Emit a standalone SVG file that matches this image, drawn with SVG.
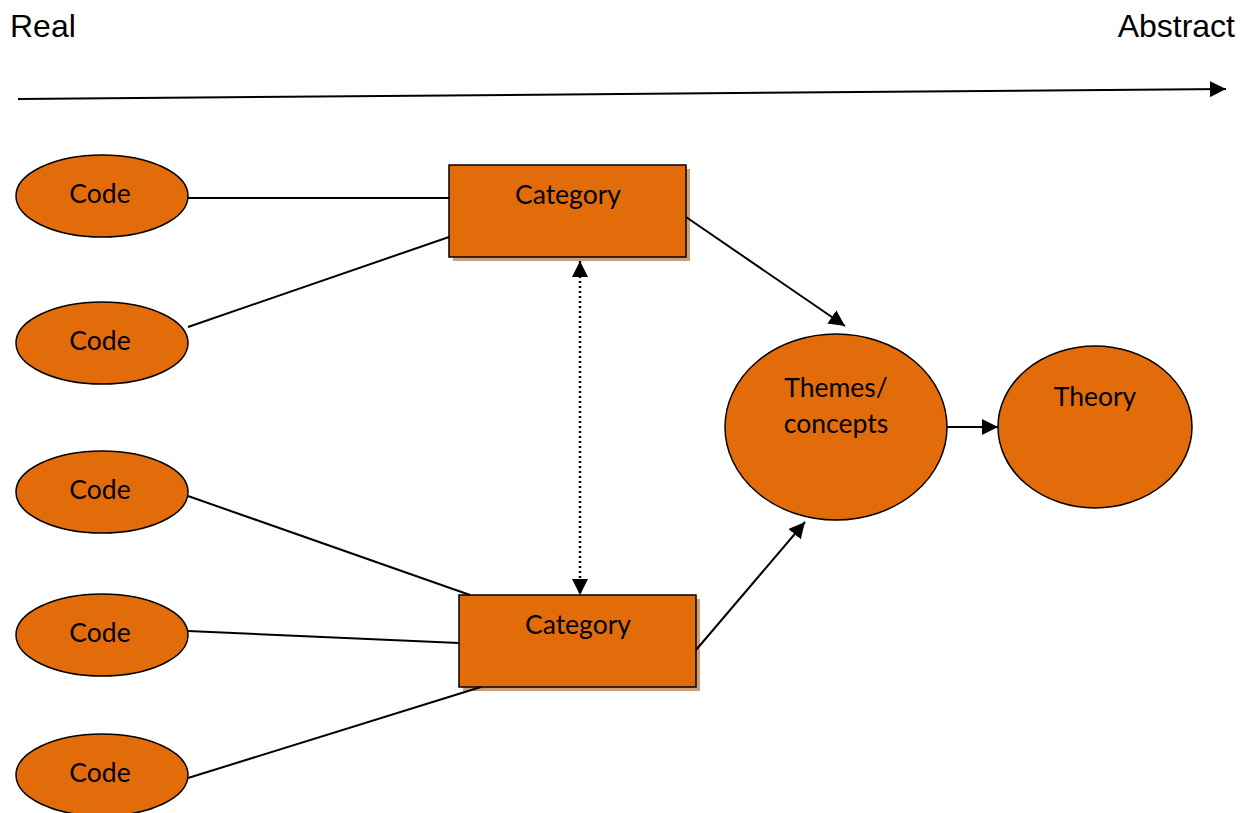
<svg xmlns="http://www.w3.org/2000/svg" width="1251" height="813" viewBox="0 0 1251 813">
<defs>
<style>
.node{fill:#e36c0a;stroke:#000;stroke-width:1.5}
.shadow{fill:#c9a07f}
.lbl{font-family:Lato,"Open Sans",sans-serif;font-size:26.5px;fill:#000;text-anchor:middle}
.hdr{font-family:"Liberation Sans",Arial,sans-serif;font-size:32px;fill:#000}
.ln{stroke:#000;stroke-width:2;fill:none}
</style>
<marker id="ah2" viewBox="0 0 10 10" refX="10" refY="5" markerWidth="16" markerHeight="16" markerUnits="userSpaceOnUse" orient="auto-start-reverse"><path d="M0,0L10,5L0,10z" fill="#000"/></marker>
</defs>
<rect width="1251" height="813" fill="#fff"/>
<text class="hdr" x="10" y="37">Real</text>
<text class="hdr" x="1235" y="37" text-anchor="end">Abstract</text>
<g id="code1"><ellipse class="node" cx="102" cy="196" rx="86" ry="41"/><text class="lbl" x="100" y="203">Code</text></g>
<g id="code2"><ellipse class="node" cx="102" cy="343" rx="86" ry="41"/><text class="lbl" x="100" y="350">Code</text></g>
<g id="code3"><ellipse class="node" cx="102" cy="492" rx="86" ry="41"/><text class="lbl" x="100" y="499">Code</text></g>
<g id="code4"><ellipse class="node" cx="102" cy="635" rx="86" ry="41"/><text class="lbl" x="100" y="642">Code</text></g>
<g id="code5"><ellipse class="node" cx="102" cy="775" rx="86" ry="41"/><text class="lbl" x="100" y="782">Code</text></g>
<g id="category1"><rect class="shadow" x="453" y="169" width="237" height="92"/><rect class="node" x="449" y="165" width="237" height="92"/><text class="lbl" x="568" y="204">Category</text></g>
<g id="category2"><rect class="shadow" x="463" y="599" width="237" height="92"/><rect class="node" x="459" y="595" width="237" height="92"/><text class="lbl" x="578" y="634">Category</text></g>
<g id="themes"><ellipse class="node" cx="836" cy="427" rx="111" ry="93"/><text class="lbl" x="836" y="397">Themes/</text><text class="lbl" x="836" y="433">concepts</text></g>
<g id="theory"><ellipse class="node" cx="1095" cy="427" rx="97" ry="81"/><text class="lbl" x="1095" y="406">Theory</text></g>
<g id="connectors">
<line class="ln" x1="18" y1="99" x2="1226" y2="89" marker-end="url(#ah2)"/>
<line class="ln" x1="188" y1="198" x2="449" y2="198"/>
<line class="ln" x1="188" y1="327" x2="449" y2="237"/>
<line class="ln" x1="188" y1="496" x2="470" y2="595"/>
<line class="ln" x1="188" y1="631" x2="459" y2="643"/>
<line class="ln" x1="188" y1="778" x2="481" y2="687"/>
<line class="ln" x1="686" y1="217" x2="845" y2="326" marker-end="url(#ah2)"/>
<line class="ln" x1="696" y1="650" x2="805" y2="522" marker-end="url(#ah2)"/>
<line class="ln" x1="947" y1="427" x2="998" y2="427" marker-end="url(#ah2)"/>
<line x1="580" y1="261" x2="580" y2="595" stroke="#000" stroke-width="2.5" stroke-dasharray="2,3" marker-start="url(#ah2)" marker-end="url(#ah2)"/>
</g>
</svg>
